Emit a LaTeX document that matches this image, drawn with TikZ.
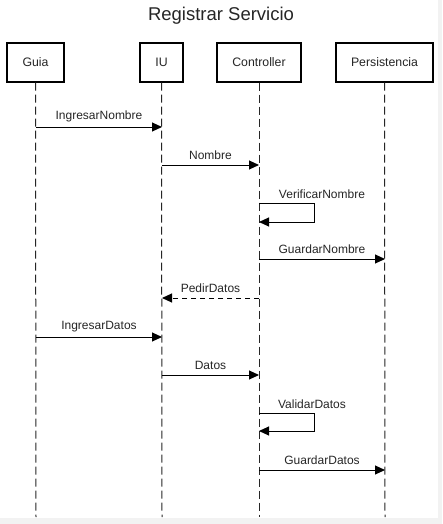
\documentclass[tikz,border=0pt]{standalone}
\usepackage{fontspec}
\setmainfont{Liberation Sans}
\usetikzlibrary{arrows.meta}
\begin{document}
\begin{tikzpicture}[x=1pt,y=-1pt,
  actor/.style={draw=black,line width=1.4pt,minimum height=39pt,inner sep=0pt,font=\fontsize{12.3}{14}\selectfont,text=black!85},
  life/.style={draw=black!85,line width=1pt,dash pattern=on 8pt off 4pt},
  msg/.style={draw=black,line width=1pt,-{Triangle[length=10pt,width=9pt]}},
  rmsg/.style={msg,dash pattern=on 5pt off 4pt},
  lbl/.style={font=\fontsize{12}{14}\selectfont,text=black!85,inner sep=0pt}]
\fill[black!5] (0,0) rectangle (442,524);
\fill[white] (0,0) rectangle (438,518);
\useasboundingbox (0,0) rectangle (442,524);
\node[font=\fontsize{18.5}{22}\selectfont,text=black!85] (title) at (221,16) {Registrar Servicio};
\node[actor,minimum width=57pt] (guia) at (35.5,62.5) {Guia};
\node[actor,minimum width=43pt] (iu) at (161.5,62.5) {IU};
\node[actor,minimum width=84pt] (ctrl) at (259,62.5) {Controller};
\node[actor,minimum width=97pt] (pers) at (384.5,62.5) {Persistencia};
\coordinate (gE) at (36,517);
\coordinate (iE) at (162,517);
\coordinate (cE) at (259,517);
\coordinate (pE) at (385,517);
\draw[life] (guia.south) -- (gE);
\draw[life] (iu.south) -- (iE);
\draw[life] (ctrl.south) -- (cE);
\draw[life] (pers.south) -- (pE);
% positions on lifelines
\foreach \n/\y in {1/127,2/165,3/203,4/222,5/259,6/298,7/337,8/375,9/413,10/431,11/470}{
  \coordinate (g\n) at (36,\y);
  \coordinate (i\n) at (162,\y);
  \coordinate (c\n) at (259,\y);
  \coordinate (p\n) at (385,\y);
}
\draw[msg] (g1) -- node[lbl,above=5pt] {IngresarNombre} (i1);
\draw[msg] (i2) -- node[lbl,above=5pt] {Nombre} (c2);
\draw[msg] (c3) -- ++(55,0) |- (c4);
\node[lbl] (vn) at (322,194) {VerificarNombre};
\draw[msg] (c5) -- node[lbl,above=5pt] {GuardarNombre} (p5);
\draw[rmsg] (c6) -- node[lbl,above=5pt] {PedirDatos} (i6);
\draw[msg] (g7) -- node[lbl,above=5pt] {IngresarDatos} (i7);
\draw[msg] (i8) -- node[lbl,above=5pt] {Datos} (c8);
\draw[msg] (c9) -- ++(55,0) |- (c10);
\node[lbl] (vd) at (312,404) {ValidarDatos};
\draw[msg] (c11) -- node[lbl,above=5pt] {GuardarDatos} (p11);
\end{tikzpicture}
\end{document}
